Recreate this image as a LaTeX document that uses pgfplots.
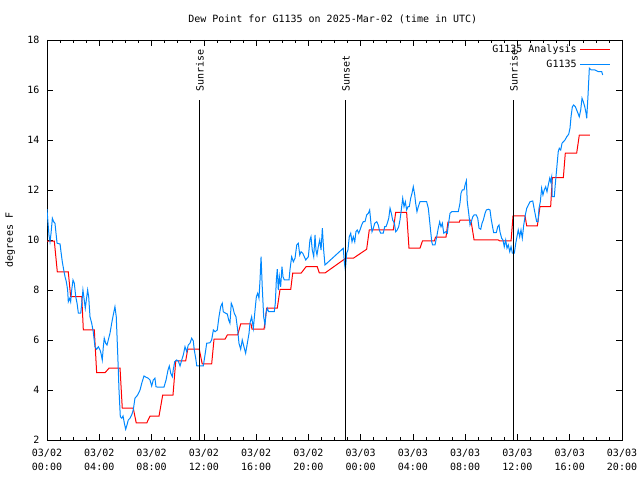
\documentclass[border=0pt]{standalone}
\usepackage{fontspec}
\setmainfont{DejaVu Sans Mono}
\usepackage{pgfplots}
\pgfplotsset{compat=1.18}
\definecolor{obsblue}{RGB}{0,136,255}
\begin{document}
\begin{tikzpicture}[x=1bp,y=1bp,font=\fontsize{10bp}{14bp}\selectfont]
\path[use as bounding box] (0,0) rectangle (640,480);
\begin{axis}[
  at={(47bp,40bp)}, anchor=south west,
  scale only axis, width=575bp, height=400bp,
  xmin=0, xmax=44, ymin=2, ymax=18,
  xtick={0,4,...,44},
  xticklabels={{03/02\\00:00},{03/02\\04:00},{03/02\\08:00},{03/02\\12:00},{03/02\\16:00},{03/02\\20:00},{03/03\\00:00},{03/03\\04:00},{03/03\\08:00},{03/03\\12:00},{03/03\\16:00},{03/03\\20:00}},
  minor x tick num=3,
  ytick={2,4,...,18},
  /pgf/number format/assume math mode=true,
  tick align=inside,
  major tick length=6bp, minor tick length=3bp,
  every tick/.style={black, line width=0.6bp},
  axis line style={line width=0.8bp},
  xticklabel style={align=center, font=\fontsize{10bp}{14bp}\selectfont, yshift=-6bp},
  yticklabel style={xshift=-4bp},
  ylabel={degrees F},
  every axis y label/.style={at={(axis description cs:-0.064,0.5)}, rotate=90, anchor=center},
  title={Dew Point for G1135 on 2025-Mar-02 (time in UTC)},
  every axis title/.style={at={(axis description cs:0.497,1)}, anchor=center, yshift=21bp},
  legend style={draw=none, fill=none, at={(axis description cs:0.9805,0.995)}, anchor=north east, inner sep=0pt, row sep=-0.5bp, nodes={inner sep=3bp}},
  legend cell align=right,
  legend plot pos=right,
  legend image code/.code={\draw[#1] (0bp,0bp) -- (30bp,0bp);},
  clip=true,
]
\addplot[red, line width=1bp] coordinates {
(0,9.95) (0.56,9.95) (0.79,8.72) (1.63,8.72) (1.81,7.73) (2.66,7.73) (2.78,6.40) (3.62,6.40) (3.80,4.69) (4.44,4.69) (4.74,4.87) (5.59,4.87) (5.76,3.27) (6.60,3.27) (6.83,2.68) (7.63,2.68) (7.88,2.95) (8.57,2.95) (8.85,3.79) (9.64,3.79) (9.85,5.16) (10.61,5.16) (10.77,5.63) (11.65,5.63) (11.88,5.04) (12.60,5.04) (12.78,6.03) (13.62,6.03) (13.80,6.20) (14.59,6.20) (14.82,6.64) (15.61,6.64) (15.69,6.43) (16.61,6.43) (16.81,7.27) (17.62,7.27) (17.83,8.02) (18.65,8.02) (18.80,8.67) (19.44,8.67) (19.82,8.93) (20.68,8.93) (20.84,8.68) (21.27,8.68) (22.67,9.20) (22.85,9.27) (23.44,9.27) (24.46,9.63) (24.66,10.40) (26.50,10.40) (26.68,11.10) (27.52,11.10) (27.70,9.67) (28.54,9.67) (28.73,9.96) (29.64,9.96) (29.73,10.11) (30.53,10.11) (30.68,10.71) (31.55,10.71) (31.60,10.79) (32.44,10.79) (32.68,10.00) (34.53,10.00) (34.66,9.96) (35.51,9.96) (35.66,10.96) (36.58,10.96) (36.71,10.56) (37.52,10.56) (37.72,11.33) (38.54,11.33) (38.67,12.49) (39.51,12.49) (39.66,13.47) (40.53,13.47) (40.73,14.19) (41.55,14.19)
};
\addlegendentry{G1135 Analysis}
\addplot[obsblue, line width=1bp] coordinates {
(0.00,11.23) (0.05,10.87) (0.15,10.2) (0.23,9.93) (0.31,10.27) (0.41,10.87) (0.51,10.73) (0.61,10.67) (0.69,10.27) (0.77,9.87) (1.00,9.84) (1.07,9.53) (1.17,9.13) (1.28,8.8) (1.38,8.53) (1.48,8.33) (1.58,8.0) (1.63,7.53) (1.74,7.67) (1.81,7.53) (1.89,8.0) (1.99,8.4) (2.09,8.27) (2.20,7.73) (2.30,7.47) (2.40,7.07) (2.58,7.07) (2.66,7.47) (2.75,8.0) (2.85,7.6) (2.93,7.27) (3.01,7.6) (3.11,8.0) (3.19,7.73) (3.29,6.93) (3.42,6.67) (3.54,6.33) (3.67,5.73) (3.80,5.63) (3.93,5.73) (4.06,5.6) (4.13,5.47) (4.23,5.2) (4.31,5.73) (4.38,6.07) (4.49,5.87) (4.59,5.8) (4.69,6.0) (4.82,6.27) (4.95,6.67) (5.07,7.0) (5.20,7.33) (5.30,6.93) (5.41,5.47) (5.51,4.0) (5.61,2.93) (5.72,2.87) (5.82,2.96) (5.92,2.67) (6.02,2.43) (6.12,2.6) (6.22,2.8) (6.35,2.87) (6.48,3.0) (6.60,3.2) (6.73,3.67) (6.94,3.8) (7.12,4.0) (7.25,4.27) (7.42,4.56) (7.58,4.51) (7.75,4.47) (7.88,4.4) (8.01,4.16) (8.13,4.4) (8.26,4.47) (8.34,4.13) (8.52,4.11) (8.95,4.11) (9.11,4.4) (9.26,4.8) (9.36,4.96) (9.47,4.67) (9.59,4.53) (9.66,4.8) (9.77,5.13) (9.92,5.2) (10.05,5.16) (10.18,4.96) (10.31,5.2) (10.43,5.4) (10.56,5.73) (10.69,5.53) (10.81,5.8) (10.94,5.87) (11.07,6.07) (11.19,5.97) (11.27,5.6) (11.38,5.27) (11.46,4.96) (11.96,4.96) (12.09,5.4) (12.22,5.87) (12.47,5.89) (12.60,6.0) (12.73,6.4) (12.86,6.33) (13.03,6.4) (13.16,6.93) (13.29,7.33) (13.41,7.47) (13.49,7.13) (13.67,7.07) (13.80,7.04) (13.90,6.8) (14.00,6.67) (14.10,7.47) (14.21,7.33) (14.33,7.07) (14.46,6.93) (14.59,6.4) (14.69,5.87) (14.82,5.63) (14.94,6.0) (15.07,5.73) (15.20,5.47) (15.33,5.87) (15.46,6.27) (15.53,6.67) (15.66,6.93) (15.79,6.47) (15.92,7.2) (16.02,7.73) (16.12,7.87) (16.22,7.67) (16.30,8.4) (16.38,9.33) (16.47,8.13) (16.58,6.93) (16.68,6.6) (16.76,7.07) (16.86,7.27) (16.96,7.13) (17.39,7.13) (17.47,7.47) (17.55,8.4) (17.62,8.83) (17.70,8.0) (17.78,8.53) (17.88,8.13) (17.98,8.93) (18.06,8.53) (18.16,8.4) (18.52,8.4) (18.59,8.8) (18.72,9.33) (18.85,9.13) (18.98,9.27) (19.11,9.8) (19.23,9.87) (19.34,9.4) (19.44,9.53) (19.57,9.47) (19.69,9.33) (19.80,9.2) (19.90,9.27) (20.00,9.33) (20.12,10.0) (20.20,10.13) (20.30,9.6) (20.41,9.33) (20.51,10.2) (20.58,9.6) (20.66,9.4) (20.76,9.73) (20.87,10.0) (20.97,9.6) (21.07,10.47) (21.17,9.6) (21.27,9.0) (22.67,9.67) (22.75,9.13) (22.83,8.8) (22.93,9.47) (23.03,9.6) (23.13,10.13) (23.24,10.27) (23.34,9.93) (23.44,10.13) (23.55,9.93) (23.64,10.33) (23.74,10.4) (23.85,10.27) (23.95,10.4) (24.08,10.6) (24.20,10.73) (24.33,10.73) (24.46,11.0) (24.59,11.07) (24.69,11.2) (24.79,10.67) (24.87,10.33) (24.97,10.47) (25.08,10.67) (25.23,10.73) (25.35,10.6) (25.43,10.4) (25.53,10.27) (25.73,10.27) (25.84,10.53) (25.94,10.53) (26.04,10.67) (26.15,10.87) (26.25,11.27) (26.35,11.07) (26.45,10.8) (26.58,10.67) (26.68,10.33) (26.80,10.4) (26.91,10.53) (27.01,10.8) (27.11,11.2) (27.22,11.67) (27.32,11.33) (27.42,11.53) (27.52,11.2) (27.62,11.33) (27.72,11.33) (27.83,11.67) (27.93,11.87) (28.03,12.13) (28.14,11.8) (28.21,11.47) (28.31,11.13) (28.41,11.33) (28.54,11.53) (29.05,11.53) (29.18,11.27) (29.31,10.6) (29.44,9.93) (29.51,9.8) (29.69,9.8) (29.82,10.13) (29.94,10.47) (30.05,10.73) (30.15,10.53) (30.25,10.67) (30.36,10.27) (30.51,10.33) (30.63,10.27) (30.71,10.6) (30.84,11.07) (30.97,11.13) (31.47,11.13) (31.60,11.47) (31.68,11.87) (31.78,12.0) (31.91,12.0) (31.99,12.2) (32.09,12.37) (32.16,11.53) (32.27,11.07) (32.37,10.6) (32.47,10.73) (32.58,10.93) (32.68,11.0) (32.85,11.0) (32.96,10.87) (33.06,10.47) (33.19,10.43) (33.29,10.67) (33.39,10.8) (33.52,11.07) (33.62,11.2) (33.77,11.23) (33.90,11.2) (33.98,10.87) (34.07,10.6) (34.18,10.29) (34.38,10.29) (34.49,10.53) (34.59,10.6) (34.66,10.33) (34.79,10.07) (34.89,10.0) (34.99,9.73) (35.10,10.0) (35.20,9.67) (35.30,9.8) (35.41,9.53) (35.51,9.73) (35.61,9.47) (35.76,9.47) (35.87,9.87) (35.96,10.13) (36.06,10.4) (36.17,10.13) (36.27,10.4) (36.37,10.07) (36.48,10.6) (36.60,11.0) (36.71,11.27) (36.83,11.4) (36.96,11.53) (37.17,11.56) (37.27,11.27) (37.37,11.0) (37.47,10.73) (37.57,10.73) (37.65,11.27) (37.75,11.53) (37.85,12.07) (37.95,11.8) (38.05,12.0) (38.16,12.13) (38.26,11.93) (38.36,12.2) (38.47,12.47) (38.54,12.33) (38.62,12.53) (38.66,11.73) (38.82,11.73) (38.89,12.2) (38.97,12.67) (39.05,13.13) (39.12,13.53) (39.20,13.67) (39.31,13.6) (39.41,13.87) (39.51,13.93) (39.64,14.0) (39.77,14.13) (39.92,14.23) (40.02,14.47) (40.10,14.93) (40.20,15.33) (40.30,15.4) (40.43,15.33) (40.53,15.2) (40.63,15.07) (40.73,14.93) (40.84,15.2) (40.94,15.67) (41.04,15.53) (41.15,15.33) (41.25,15.07) (41.30,14.87) (41.40,15.8) (41.50,16.87) (41.65,16.8) (41.93,16.8) (42.19,16.73) (42.45,16.73) (42.52,16.6)
};
\addlegendentry{G1135}
\addplot[black, line width=0.8bp, forget plot] coordinates {(11.63,2) (11.63,15.6)};
\addplot[black, line width=0.8bp, forget plot] coordinates {(22.80,2) (22.80,15.6)};
\addplot[black, line width=0.8bp, forget plot] coordinates {(35.66,2) (35.66,15.6)};
\node[rotate=90, anchor=west, inner sep=0pt] at (axis cs:11.70,15.92) {Sunrise};
\node[rotate=90, anchor=west, inner sep=0pt] at (axis cs:22.87,15.92) {Sunset};
\node[rotate=90, anchor=west, inner sep=0pt] at (axis cs:35.73,15.92) {Sunrise};
\end{axis}
\end{tikzpicture}
\end{document}
